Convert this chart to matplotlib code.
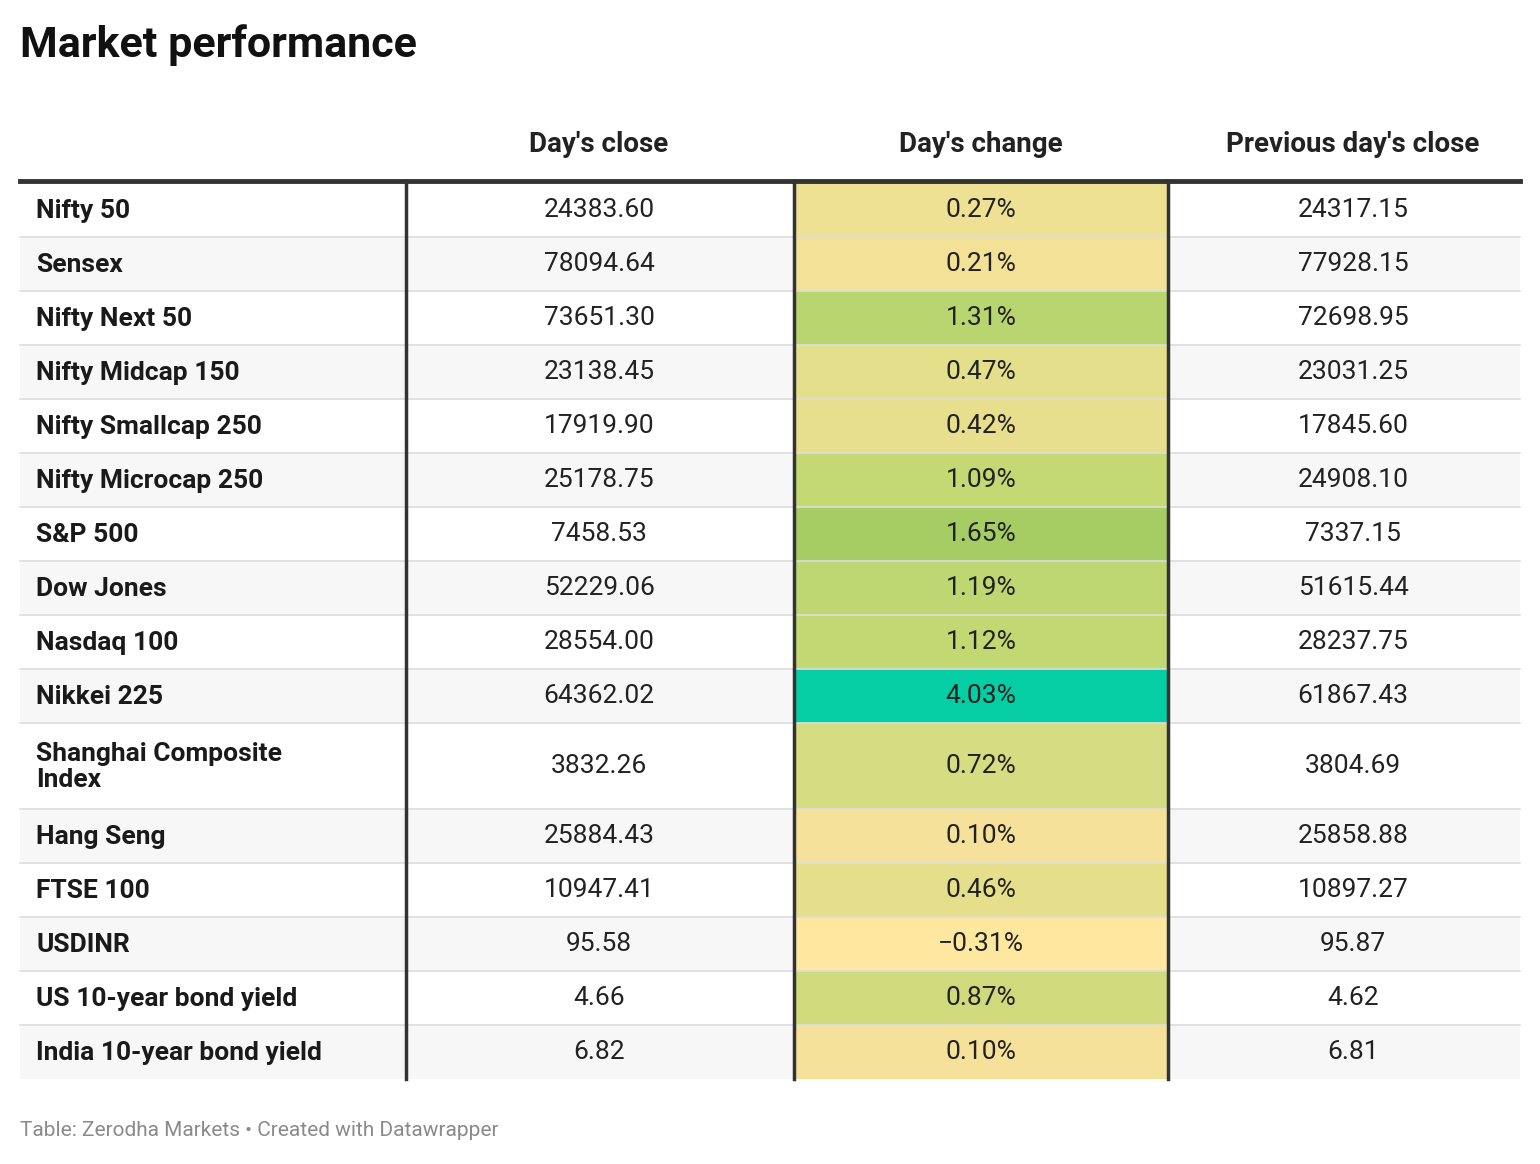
import matplotlib
matplotlib.use("Agg")
import matplotlib.pyplot as plt
from matplotlib.colors import LinearSegmentedColormap, Normalize

names = ["Nifty 50","Sensex","Nifty Next 50","Nifty Midcap 150","Nifty Smallcap 250",
         "Nifty Microcap 250","S&P 500","Dow Jones","Nasdaq 100","Nikkei 225",
         "Shanghai Composite\nIndex","Hang Seng","FTSE 100","USDINR",
         "US 10-year bond yield","India 10-year bond yield"]
close = ["24383.60","78094.64","73651.30","23138.45","17919.90","25178.75","7458.53",
         "52229.06","28554.00","64362.02","3832.26","25884.43","10947.41","95.58","4.66","6.82"]
change = [0.27,0.21,1.31,0.47,0.42,1.09,1.65,1.19,1.12,4.03,0.72,0.10,0.46,-0.31,0.87,0.10]
prev = ["24317.15","77928.15","72698.95","23031.25","17845.60","24908.10","7337.15",
        "51615.44","28237.75","61867.43","3804.69","25858.88","10897.27","95.87","4.62","6.81"]
headers = ["Day's close","Day's change","Previous day's close"]

cmap = LinearSegmentedColormap.from_list("dw", [
    (0.0,"#fee8a0"),(0.094,"#f6e19b"),(0.134,"#efe194"),(0.237,"#d6dc81"),
    (0.322,"#c4d874"),(0.373,"#b9d56f"),(0.45,"#a6cd63"),(1.0,"#05cda4")])
norm = Normalize(min(change), max(change))

plt.rcParams['font.family'] = ['Roboto', 'DejaVu Sans']
fig = plt.figure(figsize=(15.4, 11.64), dpi=100)
ax = fig.add_axes([0, 0, 1, 1])
ax.set_xlim(0, 1540); ax.set_ylim(1164, 0); ax.axis("off")

ax.text(20, 45, "Market performance", fontsize=31, fontweight="bold", va="center", color="#111")
cx = [599, 981, 1353]
for x, h in zip(cx, headers):
    ax.text(x, 144, h, fontsize=20, fontweight="bold", ha="center", va="center", color="#222")

y = 183
for i, n in enumerate(names):
    h = 86 if "\n" in n else 54
    bg = "#f7f7f7" if i % 2 else "white"
    ax.add_patch(plt.Rectangle((20, y), 1500, h, color=bg, lw=0))
    ax.add_patch(plt.Rectangle((794, y), 374, h, color=cmap(norm(change[i])), lw=0))
    if i > 0:
        ax.plot([20, 1520], [y, y], color="#dddddd", lw=1.2, zorder=2)
    yc = y + h / 2
    ax.text(36, yc + 1, n, fontsize=19, fontweight="bold", va="center", color="#1a1a1a", linespacing=1.15)
    ax.text(cx[0], yc, close[i], fontsize=19, ha="center", va="center", color="#222")
    s = f"{change[i]:.2f}%".replace("-", "−")
    ax.text(cx[1], yc, s, fontsize=19, ha="center", va="center", color="#222")
    ax.text(cx[2], yc, prev[i], fontsize=19, ha="center", va="center", color="#222")
    y += h

ax.plot([20, 1520], [181, 181], color="#333", lw=3.5, zorder=3)
for x in [406, 794, 1168]:
    ax.plot([x, x], [181, y], color="#333", lw=2.5, zorder=3)

ax.text(20, 1131, "Table: Zerodha Markets • Created with Datawrapper", fontsize=15,
        va="center", color="#8a8a8a")
fig.savefig("out.png", dpi=100)
